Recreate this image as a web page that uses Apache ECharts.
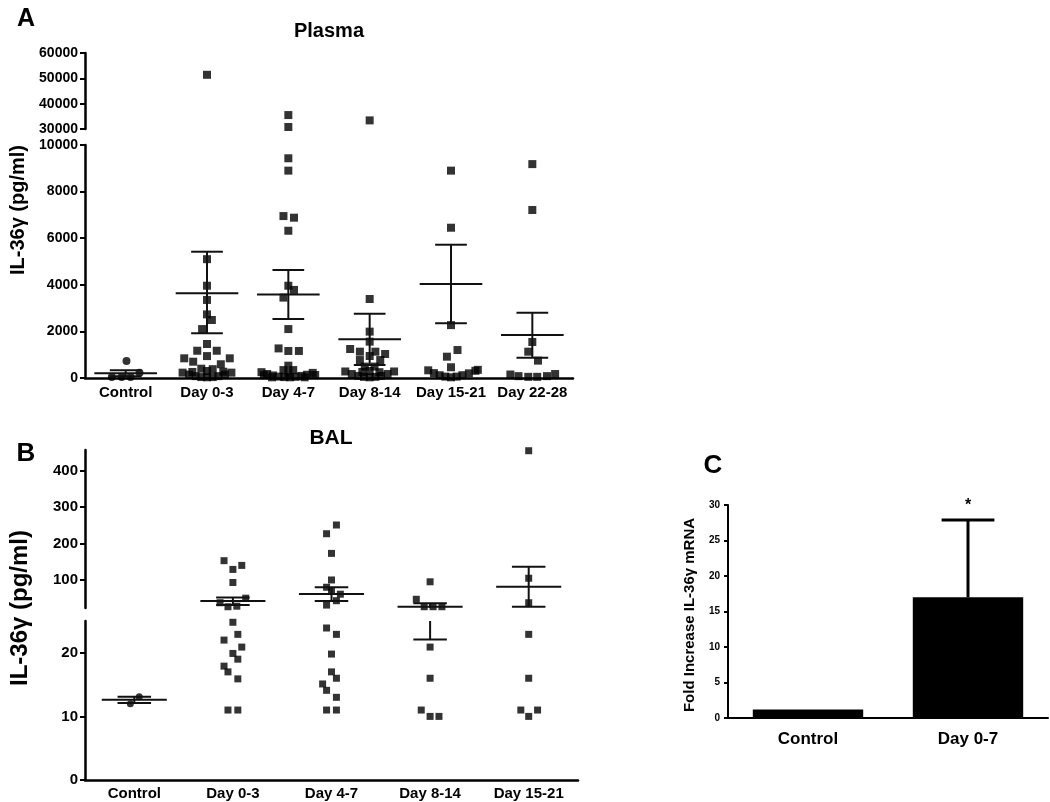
<!DOCTYPE html>
<html><head><meta charset="utf-8">
<script src="https://cdn.jsdelivr.net/npm/echarts@6/dist/echarts.min.js"></script>
<style>html,body{margin:0;padding:0;background:#fff}#c{width:1050px;height:802px}</style>
</head><body><div id="c"></div>
<script>
// ---------------- DATA ----------------
// Panel A (Plasma): points as [jitter offset in category units, value pg/ml]
const plasmaCategories = ['Control', 'Day 0-3', 'Day 4-7', 'Day 8-14', 'Day 15-21', 'Day 22-28'];
const plasmaControl = [[-0.17, 40], [-0.05, 40], [0.06, 40], [0.01, 730], [0.17, 230]];
const plasmaDay0_3 = [[0, 51400], [0, 5100], [0, 3960], [0, 3350], [0, 2730], [0.06, 2490], [-0.06, 2100], [0, 1460],
  [-0.12, 1170], [0.12, 1170], [0, 940], [-0.28, 845], [0.28, 845], [-0.17, 700], [0.17, 590], [-0.07, 400], [0.07, 380], [0, 300],
  [-0.3, 230], [-0.22, 150], [-0.14, 80], [-0.07, 40], [0, 30], [0.07, 40], [0.14, 80], [0.22, 150], [0.3, 230], [-0.18, 260], [0.2, 270]];
const plasmaDay4_7 = [[0, 35500], [0, 30800], [0, 9430], [0, 8900], [-0.06, 6950], [0.07, 6880], [0, 6320], [0, 3960], [0.07, 3780],
  [-0.06, 3450], [0, 2100], [-0.12, 1270], [0, 1160], [0.13, 1160], [0, 530], [-0.06, 340], [0.06, 340],
  [-0.33, 250], [-0.26, 170], [-0.19, 110], [-0.12, 60], [-0.05, 40], [0.02, 30], [0.09, 50], [0.16, 90], [0.23, 140], [0.3, 220],
  [-0.3, 120], [0.33, 130], [-0.2, 30], [0.2, 30], [0, 200]];
const plasmaDay8_14 = [[0, 33400], [0, 3390], [0, 1990], [0, 1560], [-0.24, 1245], [-0.12, 1130], [0.07, 1130], [0.19, 1030], [0, 945],
  [-0.12, 770], [0.13, 770], [-0.06, 490], [0.06, 490],
  [-0.3, 280], [-0.22, 170], [-0.14, 90], [-0.07, 50], [0, 30], [0.07, 50], [0.14, 90], [0.22, 170], [0.3, 280], [0, 300], [-0.09, 260], [0.12, 250]];
const plasmaDay15_21 = [[0, 8900], [0, 6450], [0, 2270], [-0.05, 915], [0.08, 1200], [0, 460],
  [-0.28, 330], [-0.21, 210], [-0.14, 120], [-0.07, 60], [0, 30], [0.07, 60], [0.14, 120], [0.22, 200], [0.3, 310], [0.33, 350]];
const plasmaDay22_28 = [[0, 9180], [0, 7210], [0, 1545], [-0.05, 1130], [0.07, 745],
  [-0.27, 150], [-0.17, 80], [-0.05, 50], [0.06, 50], [0.18, 80], [0.28, 170]];
// mean, lower SEM, upper SEM
const plasmaErrors = [[200, 80, 330], [3640, 1920, 5420], [3580, 2530, 4630], [1660, 560, 2760], [4030, 2350, 5720], [1845, 870, 2800]];
const plasmaUpperTicks = [30000, 40000, 50000, 60000];
const plasmaLowerTicks = [0, 2000, 4000, 6000, 8000, 10000];

// Panel B (BAL)
const balCategories = ['Control', 'Day 0-3', 'Day 4-7', 'Day 8-14', 'Day 15-21'];
const balControl = [[-0.04, 12.0], [0.05, 13.1]];
const balDay0_3 = [[-0.09, 153], [0.09, 140], [0, 129], [0, 93], [0.13, 50], [-0.13, 37.5], [0.04, 28], [-0.05, 26.5],
  [0, 24.8], [0.05, 22.9], [-0.09, 22.0], [0.09, 20.9], [0, 19.9], [0.05, 19.0], [-0.09, 17.9], [-0.05, 17.0], [0.05, 15.9], [-0.05, 11], [0.05, 11]];
const balDay4_7 = [[0.05, 251], [-0.05, 227], [0, 173], [0, 100], [-0.05, 80], [0, 70], [0.09, 61], [0.05, 43], [-0.05, 31],
  [-0.05, 23.9], [0.05, 22.9], [0, 19.8], [0, 17.0], [0.05, 16.0], [-0.09, 15.1], [-0.05, 14.1], [0.05, 13.0], [-0.05, 11], [0.05, 11]];
const balDay8_14 = [[0, 95], [-0.14, 47], [-0.06, 26.5], [0.03, 26.5], [0.12, 26.5],
  [0, 20.9], [0, 16.0], [-0.09, 11], [0, 10], [0.09, 10]];
const balDay15_21 = [[0, 455], [0, 104.7], [0, 37.5], [0, 22.9], [0, 16], [-0.08, 11], [0.09, 11], [0, 10]];
const balErrors = [[12.6, 12.1, 13.1], [42, 31, 52], [61.5, 42, 80], [26.5, 22.1, 35.8], [81.6, 26.5, 136.6]];
const balUpperTicks = [100, 200, 300, 400];
const balLowerTicks = [0, 10, 20];

// Panel C (mRNA)
const mrnaCategories = ['Control', 'Day 0-7'];
const mrnaValues = [1.2, 17.0];
const mrnaUpper = [1.2, 27.9];
const mrnaSignificance = ['', '*'];
const mrnaTicks = [0, 5, 10, 15, 20, 25, 30];

// ---------------- CHART ----------------
const FONT = '"Liberation Sans", Arial, Helvetica, sans-serif';
const plasmaGroups = [plasmaControl, plasmaDay0_3, plasmaDay4_7, plasmaDay8_14, plasmaDay15_21, plasmaDay22_28];
const balGroups = [balControl, balDay0_3, balDay4_7, balDay8_14, balDay15_21];

// axis ranges of broken segments
const A_UP = [30000, 60000], A_LO = [0, 10000];
const B_UP = [23, 457], B_LO = [0, 25];

function points(groups, test) {
  const out = [];
  groups.forEach((g, i) => g.forEach(([o, v]) => {
    if (test(v)) out.push({ value: [i + o, v], symbol: i === 0 ? 'circle' : 'rect' });
  }));
  return out;
}

function errSeries(xi, yi, errs, range, meanW, capW, lw) {
  const [ymin, ymax] = range;
  return {
    type: 'custom', xAxisIndex: xi, yAxisIndex: yi, z: 3, clip: false, silent: true,
    data: errs.map((e, i) => [i, e[0], e[1], e[2]]),
    renderItem(params, api) {
      const x = api.value(0), m = api.value(1), lo = api.value(2), hi = api.value(3);
      if (hi < ymin || lo > ymax) return null;
      const band = api.size([1, 0])[0];
      const c = v => api.coord([x, Math.max(ymin, Math.min(ymax, v))]);
      const style = { stroke: '#111', lineWidth: lw };
      const ch = [];
      const a = c(lo), b = c(hi);
      ch.push({ type: 'line', shape: { x1: a[0], y1: a[1], x2: b[0], y2: b[1] }, style });
      const hl = (v, w) => {
        if (v >= ymin && v <= ymax) {
          const p = c(v);
          ch.push({ type: 'line', shape: { x1: p[0] - band * w / 2, y1: p[1], x2: p[0] + band * w / 2, y2: p[1] }, style });
        }
      };
      hl(m, meanW); hl(lo, capW); hl(hi, capW);
      return { type: 'group', children: ch };
    }
  };
}

const tickStyle = (vals, w, len) => ({ show: true, inside: false, length: len, customValues: vals, lineStyle: { color: '#000', width: w } });
const labelStyle = (vals, size, margin) => ({ show: true, customValues: vals, color: '#000', fontWeight: 'bold', fontSize: size,
  fontFamily: FONT, margin, formatter: v => String(v) });
const hiddenValueX = (grid, max) => ({ type: 'value', gridIndex: grid, min: -0.5, max, show: false });
const catX = (grid, data, size, margin, w) => ({
  type: 'category', gridIndex: grid, data, axisLine: { show: true, onZero: false, lineStyle: { color: '#000', width: w } },
  axisTick: { show: false }, splitLine: { show: false },
  axisLabel: { color: '#000', fontWeight: 'bold', fontSize: size, fontFamily: FONT, margin, interval: 0 }
});
const valY = (grid, range, ticks, size, w, margin, interval, tlen) => ({
  type: 'value', gridIndex: grid, min: range[0], max: range[1], interval,
  axisLine: { show: true, onZero: false, lineStyle: { color: '#000', width: w } },
  axisTick: tickStyle(ticks, 2, tlen || 5), axisLabel: labelStyle(ticks, size, margin),
  splitLine: { show: false }
});

const txt = (text, x, y, size, rot) => ({
  type: 'text', x, y, rotation: rot || 0,
  style: { text, fill: '#000', font: 'bold ' + size + 'px ' + FONT, textAlign: 'center', textVerticalAlign: 'middle', align: 'center', verticalAlign: 'middle' }
});

const option = {
  backgroundColor: '#fff',
  animation: false,
  grid: [
    { left: 85, top: 53, width: 488, height: 76 },
    { left: 85, top: 145, width: 488, height: 233 },
    { left: 85, top: 450, width: 493, height: 158 },
    { left: 85, top: 621, width: 493, height: 159 },
    { left: 728, top: 505, width: 320, height: 213 }
  ],
  xAxis: [
    hiddenValueX(0, 5.5),
    catX(1, plasmaCategories, 15, 7, 2.5),
    hiddenValueX(1, 5.5),
    hiddenValueX(2, 4.5),
    catX(3, balCategories, 15, 6, 2.5),
    hiddenValueX(3, 4.5),
    catX(4, mrnaCategories, 17, 13, 2)
  ],
  yAxis: [
    valY(0, A_UP, plasmaUpperTicks, 14, 2.5, 7, 10000),
    valY(1, A_LO, plasmaLowerTicks, 14, 2.5, 7, 2000),
    valY(2, B_UP, balUpperTicks, 15, 2.5, 7),
    valY(3, B_LO, balLowerTicks, 15, 2.5, 7),
    valY(4, [0, 30], mrnaTicks, 10, 2, 8, 5, 4)
  ],
  graphic: { elements: [
    txt('A', 26, 19, 25),
    txt('Plasma', 329, 31, 20),
    txt('IL-36\u03b3 (pg/ml)', 18, 210, 20, Math.PI / 2),
    txt('B', 26, 454, 26),
    txt('BAL', 331, 438, 21),
    txt('IL-36\u03b3 (pg/ml)', 20, 608, 24, Math.PI / 2),
    txt('C', 713, 466, 26),
    txt('Fold Increase IL-36\u03b3 mRNA', 690, 615, 15, Math.PI / 2)
  ] },
  series: [
    { type: 'scatter', xAxisIndex: 0, yAxisIndex: 0, symbolSize: 8, itemStyle: { color: '#000' },
      data: points(plasmaGroups, v => v > A_LO[1]) },
    { type: 'scatter', xAxisIndex: 2, yAxisIndex: 1, symbolSize: 8, itemStyle: { color: '#000' },
      data: points(plasmaGroups, v => v <= A_LO[1]) },
    errSeries(0, 0, plasmaErrors, A_UP, 0.77, 0.39, 2),
    errSeries(2, 1, plasmaErrors, A_LO, 0.77, 0.39, 2),
    { type: 'scatter', xAxisIndex: 3, yAxisIndex: 2, symbolSize: 7, itemStyle: { color: '#000' },
      data: points(balGroups, v => v > B_LO[1]) },
    { type: 'scatter', xAxisIndex: 5, yAxisIndex: 3, symbolSize: 7, itemStyle: { color: '#000' },
      data: points(balGroups, v => v <= B_LO[1]) },
    errSeries(3, 2, balErrors, B_UP, 0.66, 0.34, 2),
    errSeries(5, 3, balErrors, B_LO, 0.66, 0.34, 2),
    { type: 'bar', xAxisIndex: 6, yAxisIndex: 4, barWidth: '69%', itemStyle: { color: '#000' }, data: mrnaValues },
    { type: 'custom', xAxisIndex: 6, yAxisIndex: 4, z: 3, silent: true, clip: false,
      data: mrnaValues.map((v, i) => [i, v, mrnaUpper[i]]),
      renderItem(params, api) {
        const i = api.value(0), v = api.value(1), hi = api.value(2);
        if (hi <= v) return null;
        const band = api.size([1, 0])[0];
        const a = api.coord([i, v]), b = api.coord([i, hi]);
        const style = { stroke: '#000', lineWidth: 3 };
        const ch = [
          { type: 'line', shape: { x1: a[0], y1: a[1], x2: b[0], y2: b[1] }, style },
          { type: 'line', shape: { x1: b[0] - band * 0.165, y1: b[1], x2: b[0] + band * 0.165, y2: b[1] }, style }
        ];
        if (mrnaSignificance[params.dataIndex]) {
          ch.push({ type: 'text', x: b[0], y: b[1] - 14, style: { text: mrnaSignificance[params.dataIndex], fill: '#000',
            font: 'bold 16px ' + FONT, align: 'center', verticalAlign: 'middle', textAlign: 'center', textVerticalAlign: 'middle' } });
        }
        return { type: 'group', children: ch };
      }
    }
  ]
};
const chart = echarts.init(document.getElementById('c'), null, { renderer: 'canvas' });
chart.setOption(option);
</script></body></html>
